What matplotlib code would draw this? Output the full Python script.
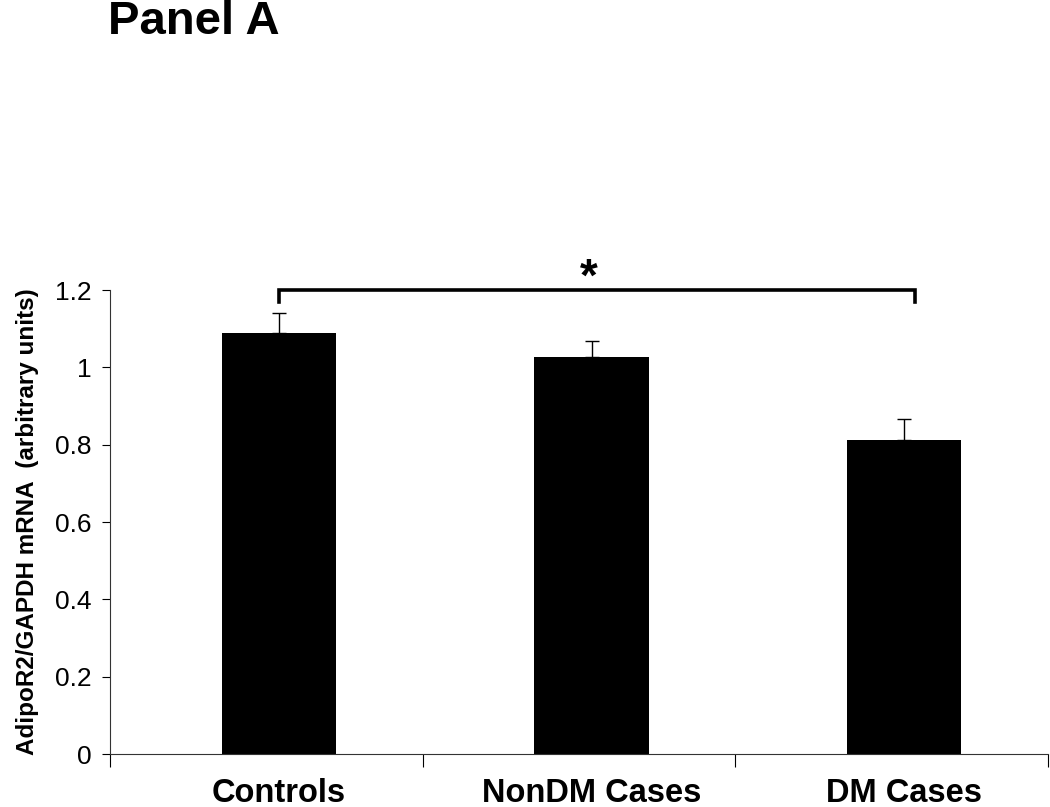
import matplotlib.pyplot as plt
import numpy as np

plt.rcParams['font.family'] = ['Liberation Sans', 'DejaVu Sans']

# data
groups = ['Controls', 'NonDM Cases', 'DM Cases']
means = np.array([1.088, 1.027, 0.812])
errors = np.array([0.052, 0.041, 0.055])
yticks = [0, 0.2, 0.4, 0.6, 0.8, 1, 1.2]
ytick_labels = ['0', '0.2', '0.4', '0.6', '0.8', '1', '1.2']

fig = plt.figure(figsize=(10.5, 8.07), dpi=100)
ax = fig.add_axes([110 / 1050, 1 - 754 / 807, 938 / 1050, (754 - 290) / 807])

x = np.arange(len(groups))
ax.bar(x, means, width=0.365, color='black', zorder=2)
ax.errorbar(x, means, yerr=[np.zeros_like(errors), errors], fmt='none',
            ecolor='black', elinewidth=1, capsize=5, capthick=1, zorder=1)

ax.set_xlim(-0.54, 2.46)
ax.set_ylim(0, 1.2)
ax.set_yticks(yticks)
ax.set_yticklabels(ytick_labels, fontsize=19)
ax.tick_params(axis='y', direction='out', length=6, width=0.8, pad=7)

# category separators as ticks, labels under bars
ax.set_xticks(x)
ax.set_xticklabels(groups, fontsize=23.5, fontweight='bold')
ax.tick_params(axis='x', which='major', length=0, pad=17)
ax.set_xticks([-0.54, 0.46, 1.46, 2.46], minor=True)
ax.tick_params(axis='x', which='minor', direction='out', length=9, width=0.8)

for s in ['top', 'right']:
    ax.spines[s].set_visible(False)
for s in ['left', 'bottom']:
    ax.spines[s].set_linewidth(0.8)
    ax.spines[s].set_color('#333333')

ax.set_ylabel('AdipoR2/GAPDH mRNA  (arbitrary units)', fontsize=17.5,
              fontweight='bold', labelpad=12)

# significance bracket
ax.plot([x[0], x[0], x[2] + 0.035, x[2] + 0.035], [1.17, 1.2, 1.2, 1.17],
        color='black', lw=2.6, clip_on=False, solid_joinstyle='miter')
ax.text(0.99, 1.198, '*', ha='center', va='baseline', fontsize=33,
        fontweight='bold', clip_on=False)

fig.text(108 / 1050, 1 - 22 / 807, 'Panel A', fontsize=34, fontweight='bold',
         ha='left', va='center')

fig.savefig('out.png', dpi=100)
